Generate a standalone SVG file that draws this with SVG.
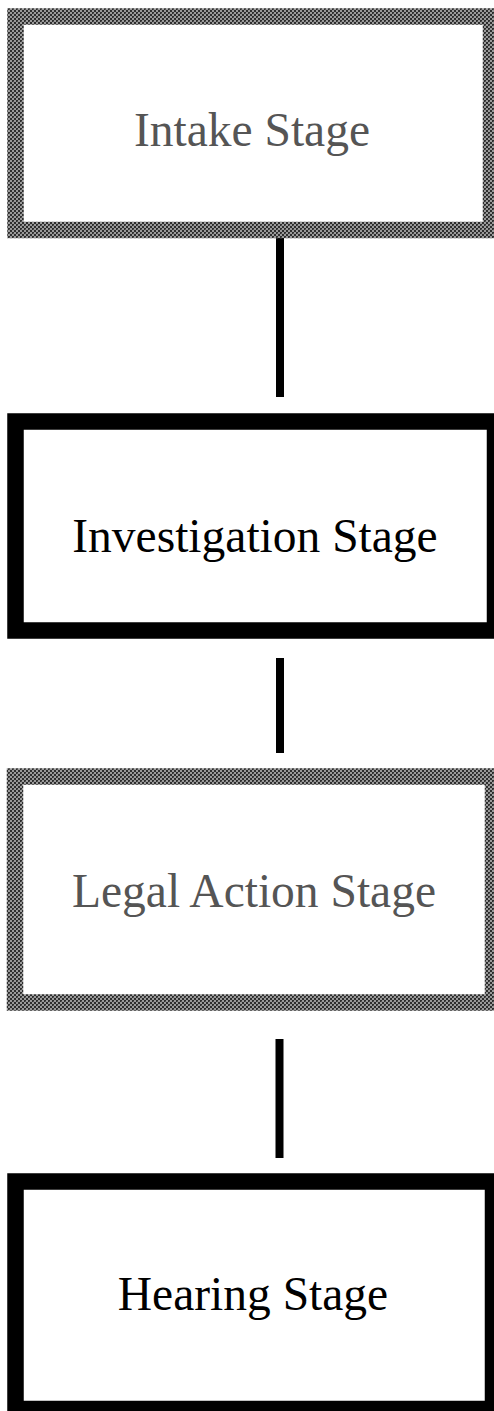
<svg xmlns="http://www.w3.org/2000/svg" width="494" height="1411" viewBox="0 0 494 1411">
<style>
.box{fill:#fff;stroke-width:16.5}
.gray{stroke:url(#dither)}
.black{stroke:#000}
.lbl{font-family:"Liberation Serif","Times New Roman",serif;font-size:47.5px;text-anchor:middle}
.lg{fill:#555}
.lb{fill:#000}
.conn{stroke:#000;stroke-width:8;fill:none}
</style>
<defs>
<pattern id="dither" patternUnits="userSpaceOnUse" width="4" height="4">
<rect width="4" height="4" fill="#9a9a9a"/>
<rect x="0" y="0" width="2" height="2" fill="#2e2e2e"/>
<rect x="2" y="2" width="2" height="2" fill="#2e2e2e"/>
<rect x="1" y="1" width="1" height="1" fill="#555"/>
</pattern>
</defs>
<rect width="494" height="1411" fill="#fff"/>
<g id="connectors">
<line class="conn" x1="280" y1="230" x2="280" y2="397"/>
<line class="conn" x1="280" y1="658" x2="280" y2="753"/>
<line class="conn" x1="279.5" y1="1039" x2="279.5" y2="1158"/>
</g>
<g id="intake">
<rect class="box gray" x="15.5" y="16.5" width="475.5" height="213.5"/>
<text class="lbl lg" x="252" y="146">Intake Stage</text>
</g>
<g id="investigation">
<rect class="box black" x="15.5" y="421.5" width="479.5" height="209"/>
<text class="lbl lb" x="255" y="552">Investigation Stage</text>
</g>
<g id="legal">
<rect class="box gray" x="15" y="776.5" width="478" height="226"/>
<text class="lbl lg" x="254" y="907">Legal Action Stage</text>
</g>
<g id="hearing">
<rect class="box black" x="15.5" y="1181.5" width="477.5" height="227.5"/>
<text class="lbl lb" x="253" y="1310">Hearing Stage</text>
</g>
</svg>
